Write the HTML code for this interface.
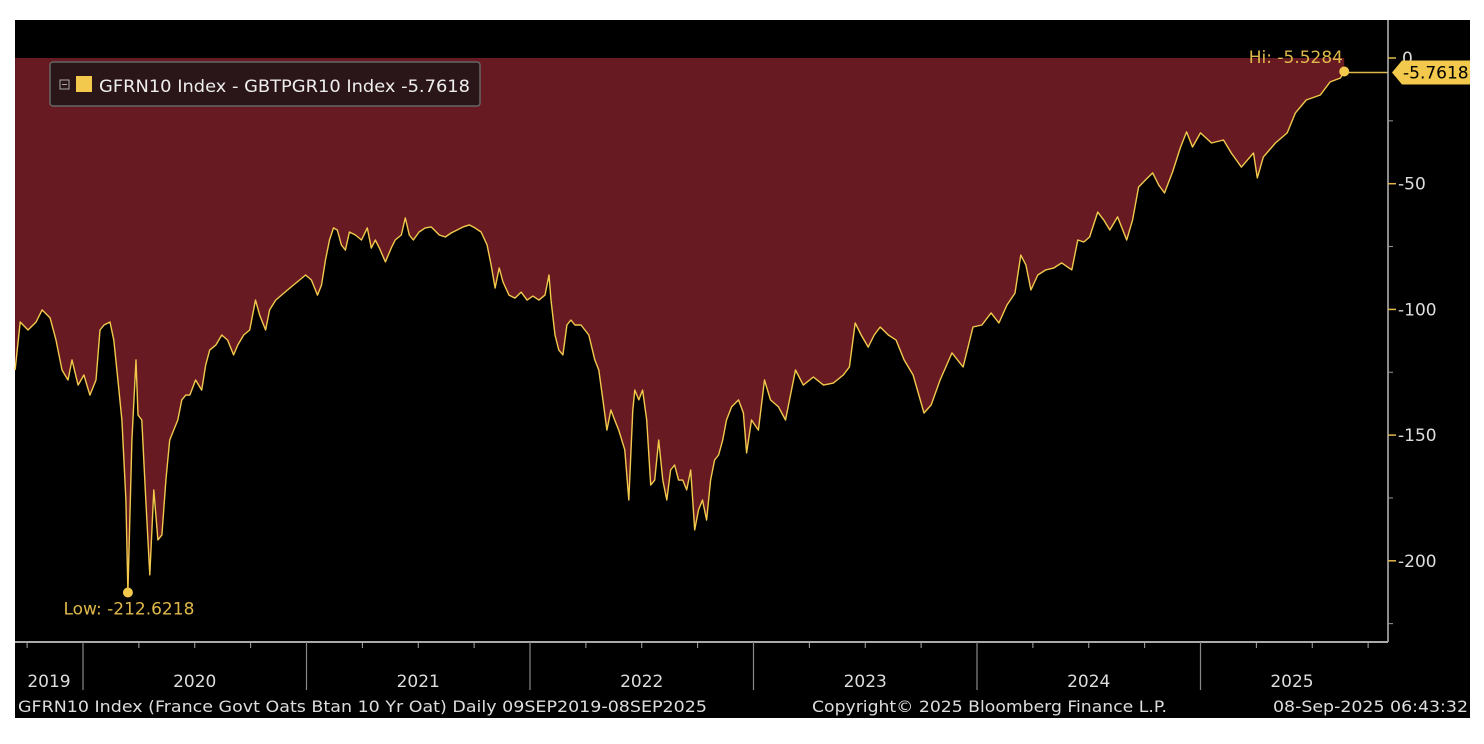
<!DOCTYPE html>
<html><head><meta charset="utf-8">
<style>
html,body{margin:0;padding:0;background:#fff;}
svg{display:block;font-family:"DejaVu Sans","Liberation Sans",sans-serif;}
</style></head>
<body>
<svg id="chart" width="1484" height="744" viewBox="0 0 1484 744" xmlns="http://www.w3.org/2000/svg">
  <rect x="15" y="20" width="1455" height="698" fill="#000"/>
  <g id="plot"></g>
  <line x1="1388" y1="20" x2="1388" y2="642" stroke="#bbb" stroke-width="1.5"/>
  <line x1="15" y1="642" x2="1388" y2="642" stroke="#aaa" stroke-width="2"/>
  <g id="yaxis"></g>
  <g id="xaxis"></g>
  <g>
    <rect x="50" y="62" width="430" height="44" rx="3" fill="#2a1518" stroke="#666" stroke-width="1.5"/>
    <rect x="60" y="80" width="9" height="9" fill="none" stroke="#aaa" stroke-width="1"/>
    <line x1="62" y1="84.5" x2="67" y2="84.5" stroke="#aaa" stroke-width="1"/>
    <rect x="76" y="76" width="16" height="16" fill="#f2c94c"/>
    <text x="99" y="92" fill="#eee" font-size="17" textLength="371" lengthAdjust="spacingAndGlyphs">GFRN10 Index - GBTPGR10 Index -5.7618</text>
  </g>
  <g>
    <text x="18" y="712" fill="#ddd" font-size="16" textLength="689" lengthAdjust="spacingAndGlyphs">GFRN10 Index (France Govt Oats Btan 10 Yr Oat)  Daily 09SEP2019-08SEP2025</text>
    <text x="812" y="712" fill="#ddd" font-size="16" textLength="355" lengthAdjust="spacingAndGlyphs">Copyright© 2025 Bloomberg Finance L.P.</text>
    <text x="1273" y="712" fill="#ddd" font-size="16" textLength="195" lengthAdjust="spacingAndGlyphs">08-Sep-2025 06:43:32</text>
  </g>
</svg>
<script>
// decimal-year dates and spread values (bp)
const dates = [2019.696,2019.719,2019.754,2019.790,2019.817,2019.853,2019.879,2019.906,2019.933,2019.951,2019.978,2020.004,2020.031,2020.058,2020.076,2020.094,2020.121,2020.138,2020.156,2020.174,2020.192,2020.201,2020.219,2020.237,2020.246,2020.263,2020.281,2020.299,2020.317,2020.335,2020.353,2020.371,2020.388,2020.406,2020.424,2020.442,2020.460,2020.478,2020.504,2020.531,2020.549,2020.567,2020.594,2020.621,2020.647,2020.674,2020.692,2020.719,2020.746,2020.772,2020.790,2020.817,2020.835,2020.862,2020.888,2020.915,2020.942,2020.969,2020.996,2021.022,2021.049,2021.067,2021.085,2021.103,2021.121,2021.138,2021.156,2021.174,2021.192,2021.219,2021.246,2021.272,2021.290,2021.308,2021.326,2021.353,2021.379,2021.397,2021.424,2021.442,2021.460,2021.478,2021.504,2021.531,2021.558,2021.594,2021.621,2021.647,2021.674,2021.701,2021.728,2021.754,2021.781,2021.808,2021.826,2021.844,2021.862,2021.879,2021.906,2021.933,2021.960,2021.987,2022.013,2022.040,2022.067,2022.085,2022.094,2022.112,2022.129,2022.147,2022.165,2022.183,2022.201,2022.228,2022.263,2022.290,2022.308,2022.326,2022.344,2022.362,2022.379,2022.397,2022.424,2022.442,2022.460,2022.469,2022.487,2022.504,2022.522,2022.540,2022.558,2022.576,2022.594,2022.612,2022.629,2022.647,2022.665,2022.683,2022.701,2022.719,2022.737,2022.754,2022.772,2022.790,2022.808,2022.826,2022.844,2022.862,2022.879,2022.902,2022.933,2022.955,2022.969,2022.991,2023.022,2023.049,2023.076,2023.112,2023.143,2023.188,2023.223,2023.268,2023.313,2023.357,2023.402,2023.429,2023.455,2023.482,2023.513,2023.540,2023.567,2023.603,2023.638,2023.674,2023.714,2023.763,2023.795,2023.835,2023.888,2023.938,2023.982,2024.022,2024.063,2024.098,2024.134,2024.170,2024.196,2024.219,2024.241,2024.272,2024.308,2024.344,2024.379,2024.424,2024.451,2024.478,2024.504,2024.540,2024.567,2024.594,2024.629,2024.670,2024.696,2024.723,2024.754,2024.786,2024.813,2024.839,2024.875,2024.911,2024.938,2024.964,2025.000,2025.049,2025.103,2025.138,2025.183,2025.210,2025.237,2025.254,2025.281,2025.335,2025.388,2025.424,2025.473,2025.536,2025.580,2025.625,2025.643];
const values = [-124.1,-105.0,-108.2,-105.0,-100.2,-103.4,-112.2,-124.1,-128.1,-120.1,-130.1,-126.1,-134.1,-128.1,-108.2,-106.2,-105.0,-112.2,-128.1,-144.0,-175.8,-212.6,-152.0,-120.1,-142.0,-144.0,-175.8,-205.6,-171.8,-191.7,-189.7,-167.9,-152.0,-148.0,-144.0,-136.0,-134.1,-134.1,-128.1,-132.1,-122.1,-116.2,-114.2,-110.2,-112.2,-118.1,-114.2,-110.2,-108.2,-96.3,-102.2,-108.2,-100.2,-96.3,-94.3,-92.3,-90.3,-88.3,-86.3,-88.3,-94.3,-90.3,-80.3,-72.4,-67.6,-68.4,-74.4,-76.4,-69.2,-70.4,-72.4,-67.6,-75.6,-72.4,-75.6,-81.1,-75.6,-72.4,-70.4,-63.6,-70.4,-72.4,-69.2,-67.6,-67.2,-70.4,-71.2,-69.6,-68.4,-67.2,-66.4,-67.6,-69.2,-74.4,-82.3,-91.5,-83.5,-89.1,-94.3,-95.5,-93.1,-96.3,-94.7,-96.3,-94.3,-86.3,-96.3,-110.2,-116.2,-118.1,-106.2,-104.2,-106.2,-106.2,-110.2,-120.1,-124.1,-136.0,-148.0,-140.0,-144.0,-148.0,-155.9,-175.8,-140.0,-132.1,-136.0,-132.1,-144.0,-169.9,-167.9,-152.0,-167.9,-175.8,-163.9,-161.9,-167.9,-167.9,-171.8,-163.9,-187.7,-179.8,-175.8,-183.8,-167.9,-159.9,-157.9,-152.0,-144.0,-138.8,-136.0,-141.2,-157.1,-144.0,-148.0,-128.1,-136.0,-138.8,-144.0,-124.1,-130.1,-126.9,-130.1,-129.3,-126.1,-122.9,-105.4,-110.2,-115.0,-110.2,-107.0,-110.2,-112.2,-120.1,-126.1,-141.2,-138.0,-128.1,-117.3,-122.9,-107.0,-106.2,-101.4,-105.4,-98.3,-93.5,-78.4,-82.3,-92.3,-86.3,-84.3,-83.5,-81.5,-84.3,-72.4,-73.2,-71.2,-61.3,-64.4,-68.4,-63.2,-72.4,-64.4,-51.3,-48.5,-45.7,-50.5,-53.7,-45.3,-35.4,-29.4,-35.4,-29.8,-33.8,-32.6,-37.8,-43.4,-40.6,-37.8,-47.7,-39.4,-33.8,-29.8,-21.9,-16.7,-14.7,-9.5,-8.0,-5.7618];
const yTicks = [0,-50,-100,-150,-200];
const years = [2019,2020,2021,2022,2023,2024,2025];
const lowLabel = "Low: -212.6218";
const hiLabel = "Hi: -5.5284";
const lastLabel = "-5.7618";

const NS = "http://www.w3.org/2000/svg";
function xs(t){ return 83 + (t - 2020) * 223.5; }
function ys(v){ return 58 - v * 2.514; }
function mk(tag, attrs, parent){ const e = document.createElementNS(NS, tag); for (const k in attrs) e.setAttribute(k, attrs[k]); parent.appendChild(e); return e; }

const plot = document.getElementById('plot');
let pts = dates.map((t,i)=> xs(t).toFixed(1)+','+ys(values[i]).toFixed(1));
const fill = mk('polygon', {points: xs(dates[0]).toFixed(1)+','+ys(0)+' '+pts.join(' ')+' '+xs(dates[dates.length-1]).toFixed(1)+','+ys(0), fill:'#681a22'}, plot);


const line = mk('polyline', {points: pts.join(' '), fill:'none', stroke:'#f2c94c', 'stroke-width':1.4, 'stroke-linejoin':'round'}, plot);



let li = values.indexOf(Math.min(...values));
const lowDot = mk('circle', {cx: xs(dates[li]), cy: ys(values[li]), r:5, fill:'#f2c94c'}, plot);


const lowT = mk('text', {x: xs(dates[li]) + 1, y: ys(values[li]) + 22, fill:'#e0b84a', 'font-size':17, 'text-anchor':'middle'}, plot);
lowT.textContent = lowLabel;



let n = values.length - 1;
const lx = xs(dates[n]), ly = ys(values[n]);
const hl = mk('line', {x1: lx, y1: ly, x2: 1388, y2: ly, stroke:'#e0b84a', 'stroke-width':1.5}, plot);


const hiDot = mk('circle', {cx: lx, cy: ly - 1, r:5, fill:'#f2c94c'}, plot);


const hiT = mk('text', {x: 1343, y: ys(0) + 5, fill:'#e0b84a', 'font-size':17, 'text-anchor':'end'}, plot);
hiT.textContent = hiLabel;



const ya = document.getElementById('yaxis');
yTicks.forEach(v=>{
  const y = ys(v);
  const tk = mk('line', {x1:1388, y1:y, x2:1396, y2:y, stroke:'#e0b84a', 'stroke-width':1.5}, ya);
  
  
  const tx = mk('text', {x: v===0 ? 1402 : 1398, y: y + 6, fill:'#ddd', 'font-size':17}, ya);
  tx.textContent = v === 0 ? '0' : String(v);
  
  
});
for (let v = -25; v > -250; v -= 50) {
  const mt = mk('line', {x1:1388, y1:ys(v), x2:1393, y2:ys(v), stroke:'#999', 'stroke-width':1}, ya);
  
  
}
const fy = ly;
const flag = mk('polygon', {points: `1392,${fy} 1402,${fy-12} 1470,${fy-12} 1470,${fy+12} 1402,${fy+12}`, fill:'#f2c94c'}, ya);


const ft = mk('text', {x:1403, y: fy + 6, fill:'#000', 'font-size':17}, ya);
ft.textContent = lastLabel;



const xa = document.getElementById('xaxis');
years.forEach(yr=>{
  const a = Math.max(xs(yr), 15), b = Math.min(xs(yr+1), 1388);
  if (yr > 2019) {
    const d = mk('line', {x1:xs(yr), y1:642, x2:xs(yr), y2:690, stroke:'#888', 'stroke-width':1.2}, xa);
    
    
  }
  for (let q = 0.25; q < 1; q += 0.25) {
    const qx = xs(yr + q);
    if (qx > 15 && qx < 1388) {
      const m = mk('line', {x1:qx, y1:642, x2:qx, y2:648, stroke:'#aaa', 'stroke-width':1}, xa);
      
      
    }
  }
  let cx = (a + b) / 2;
  if (yr === 2025) cx = 1292;
  const t = mk('text', {x: cx, y: 687, fill:'#ddd', 'font-size':17, 'text-anchor':'middle'}, xa);
  t.textContent = String(yr);
  
  
});
</script>
</body></html>
